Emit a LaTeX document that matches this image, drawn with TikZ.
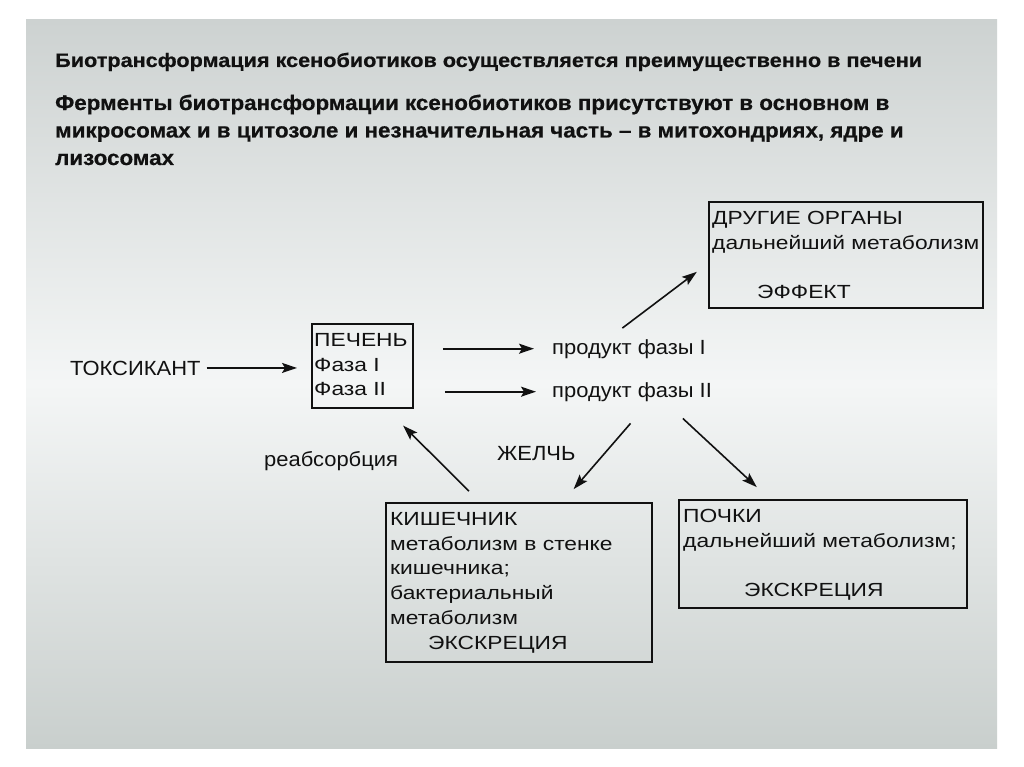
\documentclass[tikz,border=0pt]{standalone}
\usepackage{fontspec}
\setmainfont{Liberation Sans}
\newfontfamily\diagfont{Liberation Sans}[FakeStretch=1.2]
\newfontfamily\labelfont{Liberation Sans}[FakeStretch=1.07]
\newfontfamily\leadfont{Liberation Sans Bold}[FakeStretch=1.11,FakeBold=0.6]
\newfontfamily\headfont{Liberation Sans Bold}[FakeStretch=1.065,FakeBold=0.6]
\usetikzlibrary{arrows.meta,calc}
\definecolor{SlideTop}{HTML}{CDD2D1}
\definecolor{SlideMid}{HTML}{F4F6F6}
\definecolor{SlideBot}{HTML}{C9CFCD}
\definecolor{SlideInk}{HTML}{111111}

\begin{document}
\begin{tikzpicture}[x=1pt,y=-1pt,
    organ/.style={draw=SlideInk,line width=1.8pt,inner sep=0pt,anchor=north west},
    organtext/.style={anchor=north west,inner sep=0pt,align=left,text=SlideInk,
      font=\diagfont\fontsize{19}{24.8}\selectfont},
    plain/.style={anchor=base west,inner sep=0pt,text=SlideInk,
      font=\labelfont\fontsize{20.5}{24}\selectfont},
    flow/.style={draw=SlideInk,line width=1.6pt,
      -{Stealth[length=15pt,width=10pt,inset=3pt]}}]
  \useasboundingbox (0,0) rectangle (1024,767);
  \fill[white] (0,0) rectangle (1024,767);
  \shade[top color=SlideTop,bottom color=SlideMid] (26,20) rectangle (997,384);
  \shade[top color=SlideMid,bottom color=SlideBot] (26,383.5) rectangle (997,748);

  % headings
  \node[anchor=base west,inner sep=0pt,text=SlideInk,
    font=\leadfont\fontsize{19.5}{24}\selectfont] (lead) at (55,67)
    {Биотрансформация ксенобиотиков осуществляется преимущественно в печени};
  \node[anchor=base west,inner sep=0pt,align=left,text=SlideInk,
    font=\headfont\fontsize{21}{27.5}\selectfont] (enzymes) at (55,165)
    {Ферменты биотрансформации ксенобиотиков присутствуют в основном в\\
     микросомах и в цитозоле и незначительная часть – в митохондриях, ядре и\\
     лизосомах};

  % organs
  \node[organ,minimum width=101pt,minimum height=84pt] (pech) at (311,323) {};
  \node[organ,minimum width=274pt,minimum height=106pt] (drug) at (708,201) {};
  \node[organ,minimum width=266pt,minimum height=159pt] (kish) at (385,502) {};
  \node[organ,minimum width=288pt,minimum height=108pt] (poch) at (678,499) {};

  \node[organtext] (pechtext) at ($(pech.north west)+(3,10)$)
    {ПЕЧЕНЬ\\Фаза I\\Фаза II};
  \node[organtext] (drugtext) at ($(drug.north west)+(4,10)$)
    {ДРУГИЕ ОРГАНЫ\\дальнейший метаболизм\\[24.8pt]\hspace*{45pt}ЭФФЕКТ};
  \node[organtext] (kishtext) at ($(kish.north west)+(5,10)$)
    {КИШЕЧНИК\\метаболизм в стенке\\кишечника;\\бактериальный\\метаболизм\\
     \hspace*{38pt}ЭКСКРЕЦИЯ};
  \node[organtext] (pochtext) at ($(poch.north west)+(5,10)$)
    {ПОЧКИ\\дальнейший метаболизм;\\[24.8pt]\hspace*{61pt}ЭКСКРЕЦИЯ};

  % labels
  \node[plain] (tox) at (70,375) {ТОКСИКАНТ};
  \node[plain] (prod1) at (552,354) {продукт фазы I};
  \node[plain] (prod2) at (552,397) {продукт фазы II};
  \node[plain] (reab) at (264,466) {реабсорбция};
  \node[plain] (bile) at (497,460) {ЖЕЛЧЬ};

  % arrows
  \draw[flow,shorten <=6pt,shorten >=14pt] (tox.east) -- (pech.west |- tox.east);
  \draw[flow,shorten <=29pt,shorten >=18pt] (pech.east |- prod1.west) -- (prod1.west);
  \draw[flow,shorten <=31pt,shorten >=16pt] (pech.east |- prod2.west) -- (prod2.west);
  \draw[flow,shorten <=18pt,shorten >=14pt]
    ([xshift=-21pt]prod1.north) -- ([yshift=-8.5pt]drug.west);
  \draw[flow,shorten <=29pt,shorten >=17pt]
    ([xshift=17.5pt]prod2.south) -- ([xshift=43.6pt]kish.north);
  \draw[flow,shorten <=25pt,shorten >=17.5pt]
    ([xshift=32.5pt]prod2.south) -- ([xshift=-53.3pt]poch.north);
  \draw[flow,shorten <=15.4pt,shorten >=23.8pt]
    ([xshift=-39pt]kish.north) -- ([xshift=23.8pt]pech.south);
\end{tikzpicture}
\end{document}
